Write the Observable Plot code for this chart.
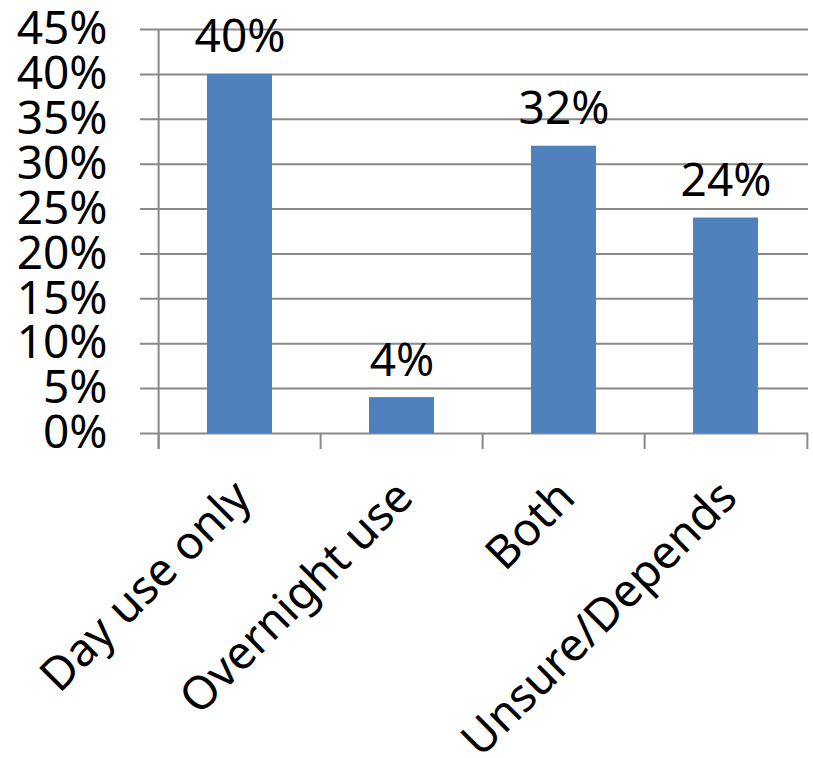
<!DOCTYPE html>
<html>
<head>
<meta charset="utf-8">
<script src="https://cdn.jsdelivr.net/npm/d3@7"></script>
<script src="https://cdn.jsdelivr.net/npm/@observablehq/plot@0.6"></script>
<style>
  html, body { margin: 0; padding: 0; background: #fff; }
  #chart svg { font-family: "Noto Sans", sans-serif; display: block; }
</style>
</head>
<body>
<div id="chart"></div>
<script>
const categories = ["Day use only", "Overnight use", "Both", "Unsure/Depends"];
const values = [40, 4, 32, 24];
const yTicks = [0, 5, 10, 15, 20, 25, 30, 35, 40, 45];

const data = categories.map((c, i) => ({category: c, value: values[i]}));

const W = 813, H = 758;
const mL = 157, mR = 5, mT = 29, mB = 325;
const step = (W - mL - mR) / categories.length;
const grid = "#898989";
const lastCat = categories[categories.length - 1];

const chart = Plot.plot({
  width: W,
  height: H,
  marginLeft: mL,
  marginRight: mR,
  marginTop: mT,
  marginBottom: mB,
  style: {fontFamily: "Noto Sans, sans-serif", fontSize: "46px", color: "#000", background: "#fff"},
  x: {domain: categories, paddingInner: 0.6, paddingOuter: 0.3, label: null},
  y: {domain: [0, 45], label: null},
  marks: [
    // horizontal gridlines, extending left as ticks
    Plot.ruleY(yTicks, {y: d => d, stroke: grid, strokeWidth: 2, insetLeft: -17}),
    // vertical value axis line (left edge of first category band)
    Plot.ruleX([categories[0]], {x: d => d, y1: 45, y2: 0, dx: -step / 2, insetBottom: -16, stroke: grid, strokeWidth: 2}),
    // category boundary ticks below the axis
    Plot.ruleX(categories, {x: d => d, y1: 0, y2: 0, dx: -step / 2, insetBottom: -16, stroke: grid, strokeWidth: 2}),
    Plot.ruleX([lastCat], {x: d => d, y1: 0, y2: 0, dx: step / 2, insetBottom: -16, stroke: grid, strokeWidth: 2}),
    Plot.barY(data, {x: "category", y: "value", fill: "#4F81BD"}),
    Plot.text(data, {x: "category", y: "value", text: d => d.value + "%", lineAnchor: "bottom", dy: -22, fontSize: 46, fill: "#000"}),
    Plot.axisY({ticks: yTicks, tickFormat: d => d + "%", tickSize: 0, tickPadding: 50, fontSize: 46, label: null}),
    Plot.axisX({tickSize: 0, tickRotate: -45, tickPadding: 56, dx: 3, fontSize: 46, label: null})
  ]
});

document.getElementById("chart").appendChild(chart);
</script>
</body>
</html>
